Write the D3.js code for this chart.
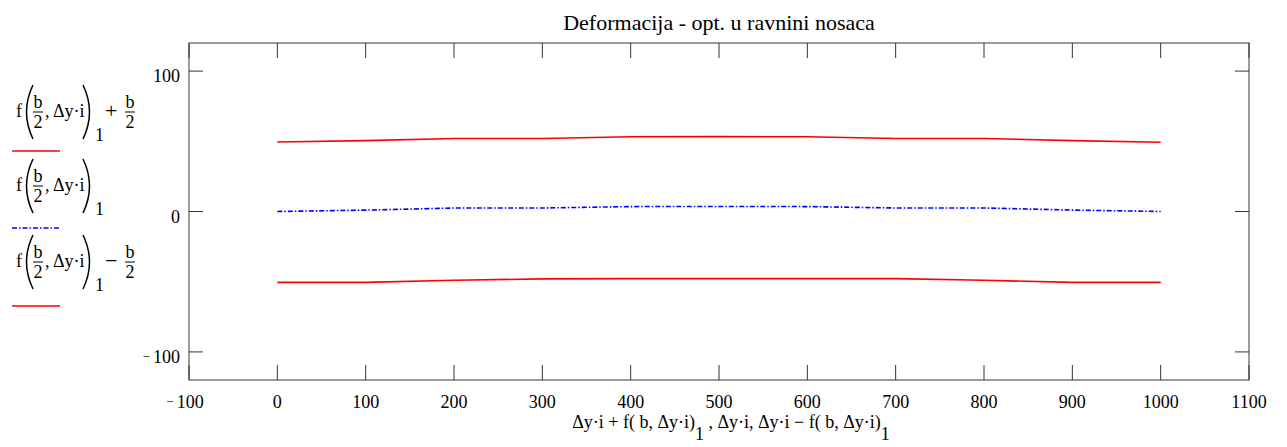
<!DOCTYPE html>
<html>
<head>
<meta charset="utf-8">
<script src="https://cdn.jsdelivr.net/npm/d3@7"></script>
<style>
  body { margin: 0; background: #fff; }
  text { font-family: "Liberation Serif", "Times New Roman", serif; fill: #000; }
</style>
</head>
<body>
<svg id="chart" width="1287" height="447"></svg>
<script>
// data
const xs = [0, 100, 200, 300, 400, 500, 600, 700, 800, 900, 1000];
const upper = [49.5, 50.5, 52, 52, 53.2, 53.3, 53.2, 52, 52, 50.5, 49.3];
const middle = [0, 1, 2.5, 2.5, 3.5, 3.6, 3.5, 2.5, 2.5, 1, 0];
const lower = [-50.5, -50.5, -49, -48, -47.8, -47.8, -47.8, -47.8, -49, -50.5, -50.5];
const xTicks = [-100, 0, 100, 200, 300, 400, 500, 600, 700, 800, 900, 1000, 1100];
const yTicks = [-100, 0, 100];

const svg = d3.select('#chart');
const plotL = 189, plotR = 1249, plotT = 43, plotB = 380;

const x = d3.scaleLinear().domain([-100, 1100]).range([plotL, plotR]);
const y = d3.scaleLinear().domain([-120, 120]).range([plotB, plotT]);

// tick label: minus drawn small and raised, as in the picture
function tickText(sel) {
  sel.each(function (v) {
    const t = d3.select(this);
    if (v < 0) {
      t.append('tspan').attr('dy', -2).style('font-size', '13px').text('\u2212 ');
      t.append('tspan').attr('dy', 2).text(Math.abs(v));
    } else {
      t.text(v);
    }
  });
}

// title
svg.append('text')
  .attr('x', 719).attr('y', 30)
  .attr('text-anchor', 'middle')
  .style('font-size', '22px')
  .text('Deformacija - opt. u ravnini nosaca');

// frame
svg.append('rect')
  .attr('x', plotL).attr('y', plotT)
  .attr('width', plotR - plotL).attr('height', plotB - plotT)
  .attr('fill', 'none').attr('stroke', '#666').attr('stroke-width', 1.3);

// ticks
const tickG = svg.append('g').attr('stroke', '#333').attr('stroke-width', 1);
xTicks.forEach(t => {
  tickG.append('line').attr('x1', x(t)).attr('x2', x(t)).attr('y1', plotB).attr('y2', plotB - 15);
  tickG.append('line').attr('x1', x(t)).attr('x2', x(t)).attr('y1', plotT).attr('y2', plotT + 15);
});
yTicks.forEach(t => {
  tickG.append('line').attr('x1', plotL).attr('x2', plotL + 14).attr('y1', y(t)).attr('y2', y(t));
  tickG.append('line').attr('x1', plotR).attr('x2', plotR - 14).attr('y1', y(t)).attr('y2', y(t));
});

svg.append('g').selectAll('text').data(xTicks).enter().append('text')
  .attr('x', d => x(d) - (d < 0 ? 4 : 0)).attr('y', 408)
  .attr('text-anchor', 'middle')
  .style('font-size', '18px')
  .call(tickText);

svg.append('g').selectAll('text').data(yTicks).enter().append('text')
  .attr('x', 180).attr('y', d => y(d) + 11)
  .attr('text-anchor', 'end')
  .style('font-size', '18px')
  .call(tickText);

// series
const line = d3.line().x((d, i) => x(xs[i])).y(d => y(d));
svg.append('path').datum(upper).attr('d', line)
  .attr('fill', 'none').attr('stroke', '#ff0000').attr('stroke-width', 1.6);
svg.append('path').datum(middle).attr('d', line)
  .attr('fill', 'none').attr('stroke', '#0000ff').attr('stroke-width', 1.6)
  .attr('stroke-dasharray', '5,2,1.5,2');
svg.append('path').datum(lower).attr('d', line)
  .attr('fill', 'none').attr('stroke', '#ff0000').attr('stroke-width', 1.6);

// x axis label
const xl = svg.append('text').attr('x', 731).attr('y', 428)
  .attr('text-anchor', 'middle').style('font-size', '18px');
xl.append('tspan').text('\u0394y\u00b7i \u002b f( b, \u0394y\u00b7i)');
xl.append('tspan').attr('dy', 12).text('1');
xl.append('tspan').attr('dy', -12).text(' , \u0394y\u00b7i, \u0394y\u00b7i \u2212 f( b, \u0394y\u00b7i)');
xl.append('tspan').attr('dy', 12).text('1');

// legend expressions: f(b/2, Δy·i)_1 [op b/2]
function frac(g, cx, cy) {
  g.append('text').attr('x', cx).attr('y', cy - 4).attr('text-anchor', 'middle')
    .style('font-size', '18px').text('b');
  g.append('line').attr('x1', cx - 5).attr('x2', cx + 5).attr('y1', cy).attr('y2', cy)
    .attr('stroke', '#000').attr('stroke-width', 1);
  g.append('text').attr('x', cx).attr('y', cy + 16).attr('text-anchor', 'middle')
    .style('font-size', '18px').text('2');
}
function legendExpr(cy, op) {
  const g = svg.append('g');
  g.append('text').attr('x', 16).attr('y', cy + 5).style('font-size', '18px').text('f');
  g.append('path')
    .attr('d', `M33,${cy - 27} Q20,${cy} 33,${cy + 27}`)
    .attr('fill', 'none').attr('stroke', '#000').attr('stroke-width', 1.5);
  frac(g, 38, cy);
  g.append('text').attr('x', 45).attr('y', cy + 5).style('font-size', '18px').text(', \u0394y\u00b7i');
  g.append('path')
    .attr('d', `M83,${cy - 27} Q96,${cy} 83,${cy + 27}`)
    .attr('fill', 'none').attr('stroke', '#000').attr('stroke-width', 1.5);
  g.append('text').attr('x', 95).attr('y', cy + 29).style('font-size', '18px').text('1');
  if (op) {
    g.append('text').attr('x', 105).attr('y', cy + 6).style('font-size', '22px').text(op);
    frac(g, 130, cy);
  }
}
legendExpr(112, '+');
legendExpr(186, null);
legendExpr(262, '\u2212');

const legendLines = [
  { yy: 151, color: '#ff0000', dash: null },
  { yy: 228, color: '#0000ff', dash: '5,2,1.5,2' },
  { yy: 306, color: '#ff0000', dash: null }
];
svg.append('g').selectAll('line').data(legendLines).enter().append('line')
  .attr('x1', 12).attr('x2', 60)
  .attr('y1', d => d.yy).attr('y2', d => d.yy)
  .attr('stroke', d => d.color).attr('stroke-width', 1.6)
  .attr('stroke-dasharray', d => d.dash);
</script>
</body>
</html>
